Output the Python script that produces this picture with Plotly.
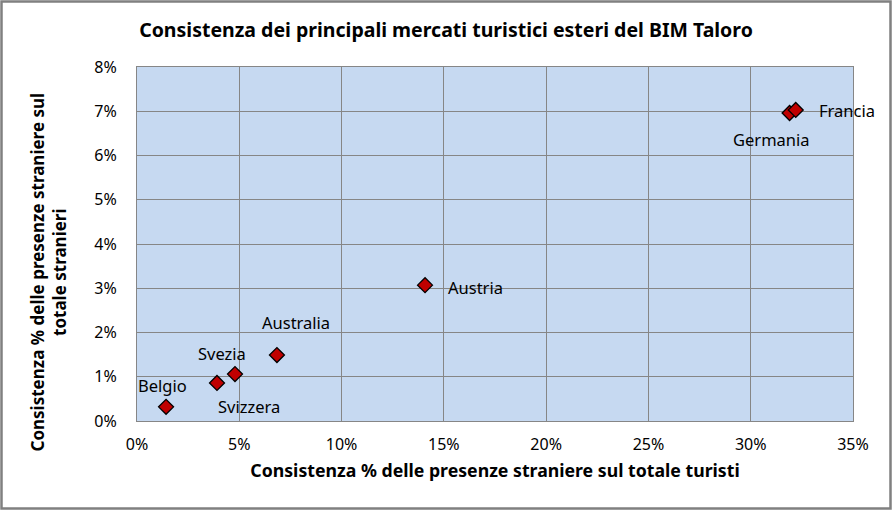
import plotly.graph_objects as go

countries = ["Belgio", "Svizzera", "Svezia", "Australia", "Austria", "Germania", "Francia"]
x_share = [1.42, 3.91, 4.79, 6.84, 14.08, 31.9, 32.2]   # % presenze straniere sul totale turisti
y_share = [0.32, 0.86, 1.06, 1.49, 3.07, 6.96, 7.03]   # % sul totale stranieri
x_ticks = [0, 5, 10, 15, 20, 25, 30, 35]
y_ticks = [0, 1, 2, 3, 4, 5, 6, 7, 8]

# label offsets in pixels (ax, ay) relative to each marker
label_offsets = {
    "Belgio": (-4, -21),
    "Svizzera": (32, 24),
    "Svezia": (-13, -21),
    "Australia": (19, -33),
    "Austria": (50, 2),
    "Germania": (-18, 26),
    "Francia": (51, 1),
}

FONT = "Noto Sans"
fig = go.Figure()
fig.add_trace(go.Scatter(
    x=x_share, y=y_share, mode="markers",
    marker=dict(symbol="diamond", size=11.5, color="#C00000",
                line=dict(color="black", width=1.3)),
    hoverinfo="text", text=countries, showlegend=False,
))
for c, xv, yv in zip(countries, x_share, y_share):
    ax, ay = label_offsets[c]
    fig.add_annotation(x=xv, y=yv, text=c, showarrow=True, arrowcolor="rgba(0,0,0,0)",
                       ax=ax, ay=ay, font=dict(family=FONT, size=16.5, color="black"))

L, R, T, B = 137, 39, 67, 89
W, H = 892, 510
pw, ph = W - L - R, H - T - B
fig.add_shape(type="rect", xref="paper", yref="paper",
              x0=(1.5 - L) / pw, x1=(W - 1.5 - L) / pw,
              y0=-(B - 1.5) / ph, y1=1 + (T - 1.5) / ph,
              line=dict(color="#808080", width=2.5), layer="below")

# y-axis title as rotated annotation (positioned like the reference)
fig.add_annotation(xref="paper", yref="paper",
                   x=(47.5 - L) / pw, y=(T + ph - 272) / ph,
                   xanchor="center", yanchor="middle", showarrow=False, textangle=-90,
                   text="<b>Consistenza % delle presenze straniere sul<br>totale stranieri</b>",
                   font=dict(family=FONT, size=17, color="black"))

fig.update_layout(
    width=W, height=H,
    margin=dict(l=L, r=R, t=T, b=B),
    paper_bgcolor="white", plot_bgcolor="#C6D9F1",
    title=dict(text="<b>Consistenza dei principali mercati turistici esteri del BIM Taloro</b>",
               x=0.5, xref="container", xanchor="center", y=1 - 30 / H, yanchor="middle",
               font=dict(family=FONT, size=19.5, color="black")),
    font=dict(family=FONT, size=16, color="black"),
)
fig.update_xaxes(range=[0, 35], tickvals=x_ticks, ticktext=[f"{v}%" for v in x_ticks],
                 showgrid=True, gridcolor="#868686", gridwidth=1,
                 showline=True, linecolor="#868686", mirror=True, zeroline=False,
                 ticks="", ticklen=0, ticklabelstandoff=9,
                 title=dict(text="<b>Consistenza % delle presenze straniere sul totale turisti</b>",
                            font=dict(family=FONT, size=17.7), standoff=10))
fig.update_yaxes(range=[0, 8], tickvals=y_ticks, ticktext=[f"{v}%" for v in y_ticks],
                 showgrid=True, gridcolor="#868686", gridwidth=1,
                 showline=True, linecolor="#868686", mirror=True, zeroline=False,
                 ticks="", ticklen=0, ticklabelstandoff=16)

fig.write_html("out.html")
